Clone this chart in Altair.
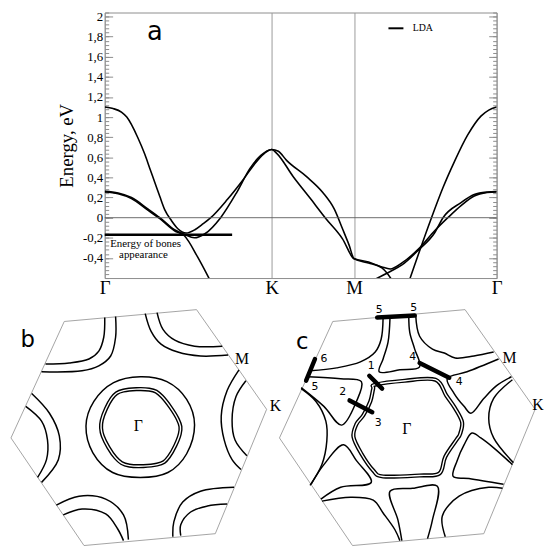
import altair as alt
import pandas as pd

SERIF = "Liberation Serif"
SANS = "DejaVu Sans"
FRAME = "#8c8c8c"

# ---------------- panel a : LDA band structure ----------------
# path coordinate: Γ = 0, K = 1, M = 1.493, Γ = 2.347
K_TICKS = [0.0, 1.0, 1.493, 2.347]
K_LABELS = ["Γ", "K", "M", "Γ"]
E_DOMAIN = [-0.6, 2.04]
E_MAJOR = [-0.4, -0.2, 0.0, 0.2, 0.4, 0.6, 0.8, 1.0, 1.2, 1.4, 1.6, 1.8, 2.0]
E_MINOR = [round(-0.6 + 0.04 * i, 2) for i in range(67)]

bandA_k = [0, 0.05, 0.10, 0.132, 0.197, 0.24, 0.27, 0.30, 0.33, 0.359,
           0.40, 0.438, 0.487, 0.54, 0.59, 0.635, 0.734, 0.83, 0.91, 0.96,
           1.0, 1.04, 1.089, 1.207, 1.306, 1.375, 1.424, 1.463, 1.493, 1.58,
           1.66, 1.71, 1.78, 1.88, 1.976, 2.055, 2.134, 2.213, 2.29, 2.347]
bandA_e = [1.10, 1.085, 1.05, 1.0, 0.80, 0.63, 0.49, 0.35, 0.21, 0.08,
           -0.03, -0.11, -0.153, -0.12, -0.06, 0.0, 0.18, 0.38, 0.56, 0.645,
           0.678, 0.66, 0.57, 0.41, 0.25, 0.085, -0.11, -0.27, -0.405, -0.44,
           -0.49, -0.51, -0.45, -0.31, -0.13, 0.0, 0.12, 0.215, 0.25, 0.257]
bandB_k = [0, 0.08, 0.16, 0.26, 0.33, 0.418, 0.477, 0.537, 0.60, 0.694, 0.79, 0.87,
           0.935, 1.0, 1.03, 1.128, 1.227, 1.325, 1.424, 1.493, 1.58, 1.66, 1.69, 1.72]
bandB_e = [0.262, 0.245, 0.20, 0.085, 0.0, -0.12, -0.165, -0.20, -0.16, 0.0, 0.25, 0.49,
           0.62, 0.678, 0.64, 0.41, 0.20, -0.01, -0.21, -0.41, -0.45, -0.50, -0.55, -0.62]
bandC_k = [0, 0.08, 0.16, 0.26, 0.33, 0.418, 0.477, 0.556, 0.63]
bandC_e = [0.255, 0.238, 0.19, 0.072, -0.01, -0.13, -0.18, -0.39, -0.62]
bandD_k = [1.61, 1.71, 1.78, 1.88, 1.976, 2.026, 2.134, 2.213, 2.29, 2.347]
bandD_e = [-0.62, -0.535, -0.47, -0.32, -0.15, 0.0, 0.15, 0.23, 0.255, 0.26]
bandE_k = [1.825, 1.957, 2.026, 2.095, 2.173, 2.253, 2.30, 2.347]
bandE_e = [-0.62, 0.0, 0.30, 0.56, 0.82, 1.01, 1.07, 1.10]

BONES_E = -0.17
BONES_K = [0.0, 0.763]
BONES_TEXT = ["Energy of bones", "appearance"]
BONES_TEXT_K = [0.245, 0.232]
BONES_TEXT_E = [-0.262, -0.374]

# ---------------- panels b, c : Fermi surface (k-space, arbitrary units) ----------------
BZ_KX = [-77, 57, 128, 76, -57, -131]
BZ_KY = [108, 120, 19, -107, -119, -10]

b_gamma_outer = [(55, 3), (47, 29), (27, 47), (0, 52), (-27, 46), (-47, 27), (-55, 2),
                 (-48, -25), (-28, -45), (0, -50), (28, -45), (47, -26)]
b_gamma_inner = [(-39, 8), (-29, 30), (-17, 38), (9, 39), (22, 32), (38, 9), (40, -6),
                 (29, -29), (17, -37), (-11, -38), (-25, -30), (-38, -8)]
b_TL_in = [(-36, 112), (-37, 92), (-42, 78), (-52, 70), (-72, 66), (-96, 65)]
b_TL_out = [(-25, 113), (-25, 92), (-30, 73), (-42, 63), (-59, 58), (-100, 57)]
b_TR_in = [(17, 117), (23, 100), (35, 89), (55, 83), (83, 83)]
b_TR_out = [(5, 116), (11, 98), (21, 85), (38, 77), (61, 73), (89, 74)]
b_R_in = [(107, 48), (97, 32), (93, 8), (96, -12), (108, -28)]
b_R_out = [(100, 59), (88, 38), (82, 12), (85, -12), (93, -32), (102, -42)]
b_BR_in = [(41, -109), (41, -98), (51, -85), (68, -79), (88, -77)]
b_BR_out = [(33, -110), (34, -95), (43, -75), (61, -64), (95, -60)]
b_BL_in = [(-78, -88), (-59, -82), (-35, -87), (-23, -102), (-17, -114)]
b_BL_out = [(-85, -78), (-62, -69), (-35, -72), (-17, -88), (-12, -113)]
b_L_in = [(-116, 22), (-100, 7), (-94, -12), (-95, -32), (-104, -50)]
b_L_out = [(-110, 35), (-92, 15), (-82, -8), (-83, -32), (-100, -55)]

c_gamma = [(-34, 44), (-4, 48), (27, 49), (38, 33), (47, 20), (54, 6), (52, -6), (49, -11),
           (37, -29), (31, -46), (11, -48), (-26, -49), (-36, -43), (-48, -26), (-56, -9),
           (-53, 4), (-46, 13), (-39, 27), (-36, 40)]
c_T1 = [(-26, 112), (-28, 90), (-34, 77), (-49, 67), (-73, 61), (-100, 58)]
c_T2 = [(-19, 112), (-21, 87), (-26, 70), (-30, 57), (-9, 59), (11, 62), (6, 80), (1, 97), (0, 113)]
c_delta = [(7, 115), (11, 93), (24, 80), (36, 76), (47, 71), (66, 73), (86, 77)]
c_URtri = [(91, 70), (59, 57), (39, 50), (46, 35), (56, 22), (63, 15), (76, 30), (89, 43), (104, 52)]
c_Rarc = [(105, 49), (86, 30), (81, 10), (86, -10), (106, -35)]
c_LRtri = [(105, -37), (86, -20), (73, -10), (64, -5), (56, -17), (49, -33), (45, -49), (61, -51), (96, -57)]
c_BRarc = [(37, -110), (34, -89), (51, -69), (81, -60), (95, -61)]
c_Bpocket = [(-7, -114), (-11, -93), (-19, -64), (4, -61), (29, -59), (24, -93), (19, -112)]
c_BLarc = [(-88, -74), (-59, -70), (-36, -73), (-26, -86), (-14, -103), (-9, -114)]
c_LLtri = [(-99, -57), (-86, -37), (-66, -17), (-53, -33), (-38, -55), (-69, -60), (-89, -72)]
c_Larc = [(-109, 40), (-94, 27), (-84, 7), (-83, -13), (-88, -37), (-100, -58)]
c_ULtri = [(-109, 41), (-86, 22), (-68, 3), (-53, 27), (-48, 47), (-69, 50), (-102, 52)]

c_bones = [[(-32, 112), (6, 114)], [(-104, 48), (-95, 70)], [(-40, 53), (-27, 40)],
           [(-60, 28), (-37, 16)], [(11, 66), (41, 51)]]
c_num_text = ["5", "5", "6", "5", "1", "2", "3", "4", "4"]
c_num_kx = [-30, 5, -86, -95, -38, -67, -31, 4, 51]
c_num_ky = [120, 122, 70, 42, 63, 37, 5, 72, 47]

b_sym_text = ["M", "K", "Γ"]
b_sym_kx = [103, 137, -2]
b_sym_ky = [70, 22, 2]
c_sym_text = ["M", "K", "Γ"]
c_sym_kx = [102, 131, -2]
c_sym_ky = [71, 23, -1]

PANEL_LETTERS = ["a", "b", "c"]
A_LETTER_POS = (0.30, 1.85)
B_LETTER_POS = (-114, 89)
C_LETTER_POS = (-108, 87)

# scale windows (which part of k-space lies under the plotting area)
HEX_B_XDOM = [-36, 361]
HEX_C_XDOM = [-308, 89]
HEX_YDOM = [152, 421]

# ---------------- build panel a ----------------
rows = []
for name, ks, es in [("A", bandA_k, bandA_e), ("B", bandB_k, bandB_e), ("C", bandC_k, bandC_e),
                     ("D", bandD_k, bandD_e), ("E", bandE_k, bandE_e)]:
    for k, e in zip(ks, es):
        rows.append({"band": name, "k": k, "E": e, "method": "LDA"})
band_df = pd.DataFrame(rows)

xs = alt.Scale(domain=[K_TICKS[0], K_TICKS[-1]], nice=False, zero=False)
ys = alt.Scale(domain=E_DOMAIN, nice=False, zero=False)

k_expr = ""
for i in range(len(K_TICKS) - 1):
    mid = (K_TICKS[i] + K_TICKS[i + 1]) / 2
    k_expr += f"datum.value < {mid:.4f} ? '{K_LABELS[i]}' : "
k_expr += f"'{K_LABELS[-1]}'"
e_expr = "replace(replace(format(datum.value, '.1~f'), '.', ','), '\u2212', '-')"


def tick_axis(orient, values, size):
    return alt.Axis(orient=orient, values=values, tickSize=size, offset=-size, tickColor=FRAME,
                    tickWidth=1, domain=False, grid=False, labels=False, title=None)


bands = alt.Chart(band_df).mark_line(strokeWidth=1.6, interpolate="monotone", clip=True).encode(
    x=alt.X("k:Q", scale=xs, axis=alt.Axis(
        orient="bottom", values=K_TICKS, labelExpr=k_expr, grid=True, gridColor="#9a9a9a",
        gridWidth=1, ticks=False, tickSize=0, domain=False, labelFont=SERIF, labelFontSize=19,
        labelColor="black", labelPadding=1, labelFlush=False, labelOverlap=False, title=None)),
    y=alt.Y("E:Q", scale=ys, axis=alt.Axis(
        orient="left", values=E_MAJOR, tickSize=8, offset=-8, tickColor=FRAME, domain=False,
        grid=False, labelExpr=e_expr, labelFont=SERIF, labelFontSize=13, labelColor="black",
        labelPadding=2, labelOverlap=False, title="Energy, eV", titleFont=SERIF,
        titleFontSize=19, titleFontWeight="normal", titleColor="black", titlePadding=6)),
    detail="band:N",
    color=alt.Color("method:N", scale=alt.Scale(range=["black"]), legend=alt.Legend(
        orient="none", legendX=286, legendY=7, title=None, symbolType="stroke",
        symbolStrokeWidth=2, symbolSize=230, labelFont=SERIF, labelFontSize=10,
        labelColor="black", labelOffset=8, padding=0)),
)

zero = alt.Chart(pd.DataFrame({"E": [0.0]})).mark_rule(color="#5a5a5a", strokeWidth=0.9).encode(
    y=alt.Y("E:Q", scale=ys, axis=tick_axis("left", E_MINOR, 4)))

bones = alt.Chart(pd.DataFrame({"k0": [BONES_K[0]], "k1": [BONES_K[1]], "E": [BONES_E]})).mark_rule(
    color="black", strokeWidth=2.4).encode(
    x=alt.X("k0:Q", scale=xs, axis=None), x2="k1:Q",
    y=alt.Y("E:Q", scale=ys, axis=tick_axis("right", E_MAJOR, 8)))

a_txt = alt.Chart(pd.DataFrame({"k": [A_LETTER_POS[0]], "E": [A_LETTER_POS[1]], "t": [PANEL_LETTERS[0]]})).mark_text(
    font=SANS, fontSize=26, align="center", baseline="middle", color="black").encode(
    x=alt.X("k:Q", scale=xs, axis=None),
    y=alt.Y("E:Q", scale=ys, axis=tick_axis("right", E_MINOR, 4)), text="t:N")

bones_txt = alt.Chart(pd.DataFrame({"k": BONES_TEXT_K, "E": BONES_TEXT_E, "t": BONES_TEXT})).mark_text(
    font=SERIF, fontSize=11, align="center", baseline="middle", color="black").encode(
    x=alt.X("k:Q", scale=xs, axis=None), y=alt.Y("E:Q", scale=ys, axis=None), text="t:N")

top = alt.layer(bands, zero, bones, a_txt, bones_txt).resolve_axis(x="independent", y="independent")


# ---------------- build panels b, c ----------------
def curves_df(curves):
    r = []
    for name, pts in curves:
        for i, (x, y) in enumerate(pts):
            r.append({"curve": name, "i": i, "kx": x, "ky": y})
    return pd.DataFrame(r)


def hex_panel(xdom, open_curves, closed_curves, double_curves, bone_marks,
              sym, letter, nums=None):
    hx = alt.Scale(domain=xdom, nice=False, zero=False)
    hy = alt.Scale(domain=HEX_YDOM, nice=False, zero=False)
    X = alt.X("kx:Q", scale=hx, axis=None)
    Y = alt.Y("ky:Q", scale=hy, axis=None)
    layers = []
    bz = pd.DataFrame({"i": range(len(BZ_KX)), "kx": BZ_KX, "ky": BZ_KY})
    layers.append(alt.Chart(bz).mark_line(color="#9a9a9a", strokeWidth=0.9,
                                          interpolate="linear-closed").encode(x=X, y=Y, order="i:Q"))
    if open_curves:
        layers.append(alt.Chart(curves_df(open_curves)).mark_line(
            color="black", strokeWidth=1.5, interpolate="catmull-rom").encode(
            x=X, y=Y, detail="curve:N", order="i:Q"))
    if closed_curves:
        layers.append(alt.Chart(curves_df(closed_curves)).mark_line(
            color="black", strokeWidth=1.5, interpolate="cardinal-closed").encode(
            x=X, y=Y, detail="curve:N", order="i:Q"))
    if double_curves:
        ddf = curves_df(double_curves)
        layers.append(alt.Chart(ddf).mark_line(
            color="black", strokeWidth=4.2, interpolate="cardinal-closed").encode(
            x=X, y=Y, detail="curve:N", order="i:Q"))
        layers.append(alt.Chart(ddf).mark_line(
            color="white", strokeWidth=1.4, interpolate="cardinal-closed").encode(
            x=X, y=Y, detail="curve:N", order="i:Q"))
    if bone_marks:
        layers.append(alt.Chart(curves_df([(f"m{j}", p) for j, p in enumerate(bone_marks)])).mark_line(
            color="black", strokeWidth=4.5, strokeCap="round").encode(
            x=X, y=Y, detail="curve:N", order="i:Q"))
    txt, tx, ty = sym
    layers.append(alt.Chart(pd.DataFrame({"t": txt, "kx": tx, "ky": ty})).mark_text(
        font=SERIF, fontSize=16, align="center", baseline="middle", color="black").encode(
        x=X, y=Y, text="t:N"))
    lt, (lx, ly) = letter
    layers.append(alt.Chart(pd.DataFrame({"t": [lt], "kx": [lx], "ky": [ly]})).mark_text(
        font=SANS, fontSize=23, align="center", baseline="middle", color="black").encode(
        x=X, y=Y, text="t:N"))
    if nums:
        nt, nx, ny = nums
        layers.append(alt.Chart(pd.DataFrame({"t": nt, "kx": nx, "ky": ny})).mark_text(
            font=SANS, fontSize=11, align="center", baseline="middle", color="black").encode(
            x=X, y=Y, text="t:N"))
    return alt.layer(*layers)


hex_b = hex_panel(
    HEX_B_XDOM,
    [("TLi", b_TL_in), ("TLo", b_TL_out), ("TRi", b_TR_in), ("TRo", b_TR_out),
     ("Ri", b_R_in), ("Ro", b_R_out), ("BRi", b_BR_in), ("BRo", b_BR_out),
     ("BLi", b_BL_in), ("BLo", b_BL_out), ("Li", b_L_in), ("Lo", b_L_out)],
    [("G", b_gamma_outer)],
    [("Gi", b_gamma_inner)],
    None,
    (b_sym_text, b_sym_kx, b_sym_ky),
    (PANEL_LETTERS[1], B_LETTER_POS),
)

hex_c = hex_panel(
    HEX_C_XDOM,
    [("T1", c_T1), ("T2", c_T2), ("d", c_delta), ("URt", c_URtri), ("Ra", c_Rarc),
     ("LRt", c_LRtri), ("BRa", c_BRarc), ("Bp", c_Bpocket), ("BLa", c_BLarc),
     ("LLt", c_LLtri), ("La", c_Larc), ("ULt", c_ULtri)],
    None,
    [("G", c_gamma)],
    c_bones,
    (c_sym_text, c_sym_kx, c_sym_ky),
    (PANEL_LETTERS[2], C_LETTER_POS),
    (c_num_text, c_num_kx, c_num_ky),
)

chart = alt.layer(top, hex_b, hex_c).resolve_scale(x="independent", y="independent").properties(
    width=397, height=269,
    padding={"left": 98, "top": 1, "right": 48, "bottom": 276},
    autosize=alt.AutoSizeParams(type="none"),
    background="white",
).configure_view(stroke=FRAME, strokeWidth=1)

chart.save("out.html", embed_options={"renderer": "svg", "actions": False})
